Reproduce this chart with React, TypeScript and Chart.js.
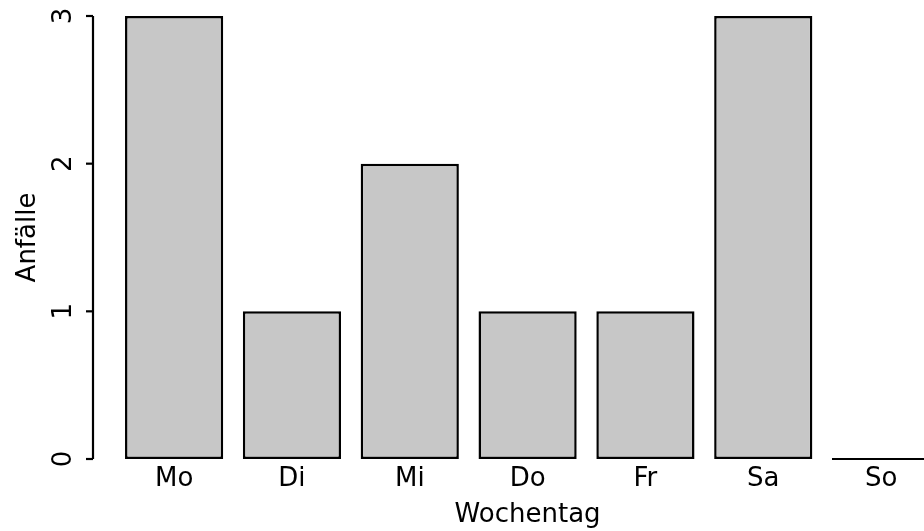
import React, { useEffect, useRef } from "react";
import { Chart, registerables } from "chart.js";

Chart.register(...registerables);

const categories = ["Mo", "Di", "Mi", "Do", "Fr", "Sa", "So"];
const values = [3, 1, 2, 1, 1, 3, 0];
const yTickValues = [0, 1, 2, 3];
const yTickLabels = ["0", "1", "2", "3"];
const xTitle = "Wochentag";
const yTitle = "Anfälle";

const FONT = "'DejaVu Sans', sans-serif";

const rAxisPlugin = {
  id: "rAxis",
  afterDatasetsDraw(chart: any) {
    const ctx = chart.ctx;
    const y = chart.scales.y;
    const meta = chart.getDatasetMeta(0);
    ctx.save();
    ctx.strokeStyle = "#000";
    ctx.lineWidth = 2.2;
    meta.data.forEach((el: any, i: number) => {
      if (values[i] === 0) {
        ctx.beginPath();
        ctx.moveTo(el.x - el.width / 2, el.y);
        ctx.lineTo(el.x + el.width / 2, el.y);
        ctx.stroke();
      }
    });
    const axisX = 93;
    const top = y.getPixelForValue(yTickValues[yTickValues.length - 1]);
    const bot = y.getPixelForValue(yTickValues[0]);
    ctx.beginPath();
    ctx.moveTo(axisX, top);
    ctx.lineTo(axisX, bot);
    ctx.stroke();
    ctx.fillStyle = "#000";
    ctx.font = `26px ${FONT}`;
    ctx.textAlign = "center";
    ctx.textBaseline = "alphabetic";
    yTickValues.forEach((v, i) => {
      const py = y.getPixelForValue(v);
      ctx.beginPath();
      ctx.moveTo(axisX - 7, py);
      ctx.lineTo(axisX, py);
      ctx.stroke();
      ctx.save();
      ctx.translate(71, py);
      ctx.rotate(-Math.PI / 2);
      ctx.fillText(yTickLabels[i], 0, 0);
      ctx.restore();
    });
    ctx.save();
    ctx.translate(35, (top + bot) / 2);
    ctx.rotate(-Math.PI / 2);
    ctx.fillText(yTitle, 0, 0);
    ctx.restore();
    ctx.restore();
  },
};

export default function App() {
  const ref = useRef<HTMLCanvasElement | null>(null);
  useEffect(() => {
    if (!ref.current) return;
    const chart = new Chart(ref.current, {
      type: "bar",
      data: {
        labels: categories,
        datasets: [
          {
            data: values,
            backgroundColor: "#c7c7c7",
            borderColor: "#000",
            borderWidth: 2.5,
            borderSkipped: false,
            barPercentage: 0.8333,
            categoryPercentage: 1,
          },
        ],
      },
      options: {
        animation: false,
        responsive: false,
        devicePixelRatio: 1,
        layout: { padding: { left: 115.2, right: 0, top: 16, bottom: 0 } },
        plugins: { legend: { display: false }, tooltip: { enabled: false } },
        scales: {
          x: {
            grid: { display: false, drawTicks: false },
            border: { display: false },
            ticks: {
              color: "#000",
              font: { family: FONT, size: 26 },
              padding: 5,
              maxRotation: 0,
              minRotation: 0,
            },
            title: {
              display: true,
              text: xTitle,
              color: "#000",
              font: { family: FONT, size: 26 },
              padding: { top: 5, bottom: 0 },
            },
            afterFit: (scale: any) => {
              scale.height = 72;
            },
          },
          y: {
            display: false,
            min: 0,
            max: 3,
            ticks: { stepSize: 1 },
          },
        },
      },
      plugins: [rAxisPlugin],
    });
    return () => chart.destroy();
  }, []);
  return (
    <div
      style={{
        position: "absolute",
        left: 0,
        top: 0,
        width: 924,
        height: 531,
        overflow: "hidden",
        background: "#fff",
      }}
    >
      <canvas ref={ref} width={940} height={531} style={{ width: 940, height: 531, display: "block" }} />
    </div>
  );
}
